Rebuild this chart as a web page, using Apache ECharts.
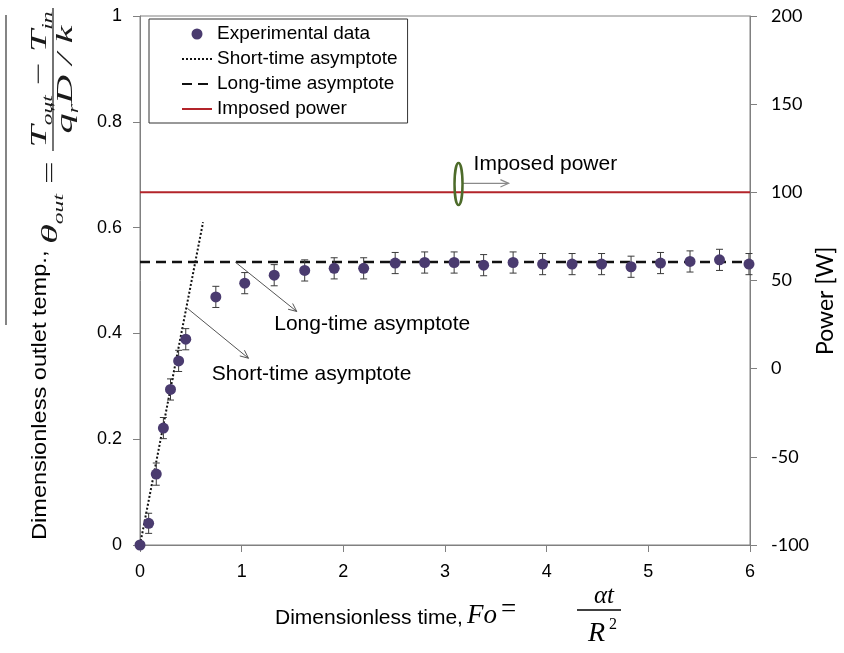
<!DOCTYPE html>
<html><head><meta charset="utf-8">
<script src="https://cdn.jsdelivr.net/npm/echarts@6/dist/echarts.min.js"></script>
<style>html,body{margin:0;padding:0;background:#fff}#c{width:844px;height:653px}</style>
</head><body><div id="c"></div>
<script>
// ---- data ----
const foValues    = [0, 0.085, 0.16, 0.23, 0.30, 0.38, 0.45, 0.746, 1.03, 1.32, 1.62, 1.91, 2.20, 2.51, 2.80, 3.09, 3.38, 3.67, 3.96, 4.25, 4.54, 4.83, 5.12, 5.41, 5.70, 5.99];
const thetaValues = [0, 0.041, 0.134, 0.221, 0.294, 0.348, 0.389, 0.469, 0.495, 0.510, 0.519, 0.523, 0.523, 0.533, 0.534, 0.534, 0.529, 0.534, 0.531, 0.531, 0.531, 0.526, 0.533, 0.536, 0.539, 0.531];
const thetaErrors = [0, 0.019, 0.021, 0.02, 0.02, 0.02, 0.02, 0.02, 0.02, 0.02, 0.02, 0.02, 0.02, 0.02, 0.02, 0.02, 0.02, 0.02, 0.02, 0.02, 0.02, 0.02, 0.02, 0.02, 0.02, 0.02];
const shortAsymFo = [0, 0.62];
const shortAsymTheta = [0, 0.61];
const longAsymFo = [0, 6];
const longAsymTheta = [0.535, 0.535];
const powerFo = [0, 6];
const powerW = [100, 100];
const xTicks = [0, 1, 2, 3, 4, 5, 6];
const thetaTicks = [0, 0.2, 0.4, 0.6, 0.8, 1];
const powerTicks = [-100, -50, 0, 50, 100, 150, 200];
const seriesNames = ['Experimental data', 'Short-time asymptote', 'Long-time asymptote', 'Imposed power'];

// annotation anchors (data coordinates)
const annLongText = [1.320, 0.418];
const annShortText = [0.706, 0.323];
const annLongArrow = [[0.936, 0.535], [1.542, 0.4414]];
const annShortArrow = [[0.466, 0.4474], [1.067, 0.353]];
const annPowerText = [3.281, 116.1];
const annPowerArrow = [[3.169, 105.1], [3.626, 105.1]];
const annPowerRing = [3.133, 104.7];

const sans = '"Liberation Sans", Arial, Helvetica, sans-serif';
const serif = '"Liberation Serif", "Times New Roman", serif';
const lato = 'Lato, "Open Sans", sans-serif';
const markerColor = '#4a3b6f';

const chart = echarts.init(document.getElementById('c'));
const zip = (a, b) => a.map((v, i) => [v, b[i]]);

const option = {
  animation: false,
  backgroundColor: '#fff',
  grid: {left: 140, right: 94, top: 16, bottom: 108, show: true, borderColor: '#808080', borderWidth: 1, backgroundColor: 'transparent'},
  xAxis: {
    type: 'value', min: xTicks[0], max: xTicks[xTicks.length - 1], interval: xTicks[1] - xTicks[0],
    axisLine: {show: true, onZero: false, lineStyle: {color: '#808080', width: 1}},
    axisTick: {show: true, length: 7, lineStyle: {color: '#808080'}},
    axisLabel: {color: '#000', fontSize: 18, fontFamily: sans, margin: 18},
    splitLine: {show: false}
  },
  yAxis: [{
    type: 'value', position: 'left', min: thetaTicks[0], max: thetaTicks[thetaTicks.length - 1], interval: thetaTicks[1] - thetaTicks[0],
    axisLine: {show: true, lineStyle: {color: '#808080', width: 1}},
    axisTick: {show: true, length: 7, lineStyle: {color: '#808080'}},
    axisLabel: {color: '#000', fontSize: 18, fontFamily: sans, margin: 18},
    splitLine: {show: false}
  }, {
    type: 'value', position: 'right', min: powerTicks[0], max: powerTicks[powerTicks.length - 1], interval: powerTicks[1] - powerTicks[0],
    axisLine: {show: true, lineStyle: {color: '#808080', width: 1}},
    axisTick: {show: true, length: 7, lineStyle: {color: '#808080'}},
    axisLabel: {color: '#000', fontSize: 18, fontFamily: lato, margin: 21},
    splitLine: {show: false}
  }],
  legend: {
    left: 149, top: 19, orient: 'vertical',
    data: seriesNames.map((n, i) => i === 0 ? {name: n} : {name: n, itemStyle: {opacity: 0}}),
    itemWidth: 30, itemHeight: 11, itemGap: 3,
    padding: [4, 10, 3, 32],
    backgroundColor: '#fff', borderColor: '#333', borderWidth: 1, borderRadius: 0,
    textStyle: {fontSize: 19, fontFamily: sans, color: '#000', lineHeight: 22}
  },
  series: [
    {
      type: 'custom', name: 'err', z: 3, silent: true,
      data: foValues.map((f, i) => [f, thetaValues[i], thetaErrors[i]]),
      renderItem: function (params, api) {
        const x = api.value(0), y = api.value(1), e = api.value(2);
        if (!e) return null;
        const top = api.coord([x, y + e]), bot = api.coord([x, y - e]);
        const cw = 3.5, st = {stroke: '#3a3a3a', lineWidth: 1};
        return {type: 'group', children: [
          {type: 'line', shape: {x1: top[0], y1: top[1], x2: bot[0], y2: bot[1]}, style: st},
          {type: 'line', shape: {x1: top[0] - cw, y1: top[1], x2: top[0] + cw, y2: top[1]}, style: st},
          {type: 'line', shape: {x1: bot[0] - cw, y1: bot[1], x2: bot[0] + cw, y2: bot[1]}, style: st}
        ]};
      }
    },
    {
      type: 'line', name: seriesNames[1], data: zip(shortAsymFo, shortAsymTheta), symbol: 'none', z: 2,
      lineStyle: {color: '#111', width: 2, type: [2, 2]}, itemStyle: {color: '#111'}
    },
    {
      type: 'line', name: seriesNames[2], data: zip(longAsymFo, longAsymTheta), symbol: 'none', z: 2,
      lineStyle: {color: '#111', width: 2.5, type: [10, 6]}, itemStyle: {color: '#111'}
    },
    {
      type: 'line', name: seriesNames[3], yAxisIndex: 1, data: zip(powerFo, powerW), symbol: 'none', z: 2,
      lineStyle: {color: '#b3242a', width: 2}, itemStyle: {color: '#b3242a'}
    },
    {
      type: 'scatter', name: seriesNames[0], data: zip(foValues, thetaValues), symbol: 'circle', symbolSize: 11, z: 4, clip: false,
      itemStyle: {color: markerColor, opacity: 1}
    }
  ]
};
chart.setOption(option);

// ---- titles & annotations ----
const mctx = document.createElement('canvas').getContext('2d');
function tw(str, size, family, italic) { mctx.font = (italic ? 'italic ' : '') + size + 'px ' + family; return mctx.measureText(str).width; }
function txt(str, x, base, size, family, italic, align, fill) {
  return {type: 'text', x: x, y: base - 0.34 * size, style: {text: str, fontSize: size, fontFamily: family, fontStyle: italic ? 'italic' : 'normal', fill: fill || '#000', align: align || 'left', verticalAlign: 'middle'}};
}
function arrow(p0, p1, color, lw) {
  const ang = Math.atan2(p1[1] - p0[1], p1[0] - p0[0]);
  const L = 9, a = 0.42;
  const h1 = [p1[0] - L * Math.cos(ang - a), p1[1] - L * Math.sin(ang - a)];
  const h2 = [p1[0] - L * Math.cos(ang + a), p1[1] - L * Math.sin(ang + a)];
  const st = {stroke: color, lineWidth: lw, fill: null};
  return [
    {type: 'line', shape: {x1: p0[0], y1: p0[1], x2: p1[0], y2: p1[1]}, style: st},
    {type: 'polyline', shape: {points: [h1, p1, h2]}, style: st}
  ];
}
const P = (d) => chart.convertToPixel({xAxisIndex: 0, yAxisIndex: 0}, d);
const PW = (d) => chart.convertToPixel({xAxisIndex: 0, yAxisIndex: 1}, d);

const g = [];
// x-axis title
g.push(txt('Dimensionless time,', 275, 625, 21, sans, false));
g.push(txt('Fo', 467, 625, 27, serif, true));
g.push(txt('=', 501, 619, 27, serif, false));
g.push({type: 'line', shape: {x1: 577, y1: 610, x2: 621, y2: 610}, style: {stroke: '#000', lineWidth: 1.3}});
g.push(txt('\u03b1t', 604, 605, 25, serif, true, 'center'));
g.push(txt('R', 588, 643, 28, serif, true));
g.push(txt('2', 609, 630, 16, serif, false));

// left y-axis title (rotated, reads bottom to top)
(function () {
  const mainStr = 'Dimensionless outlet temp., ';
  const mainSize = 21;
  const mainW = tw(mainStr, mainSize, sans, false);
  const mainLen = 296;
  const fb = 12;
  const fs = 24, ss = 14, fc = '#1a1a1a';
  const kids = [];
  let fx = 0;
  kids.push(txt('\u03b8', fx, fb, fs, serif, true, 'left', fc)); fx += tw('\u03b8', fs, serif, true);
  kids.push(txt('out', fx, fb + 5, ss, serif, true, 'left', fc)); fx += tw('out', ss, serif, true);
  kids.push(txt(' = ', fx, fb, fs, serif, false, 'left', fc)); fx += tw(' = ', fs, serif, false);
  const numParts = [['T', fs, true, 0], ['out', ss, true, 5], [' \u2212 ', fs, false, 0], ['T', fs, true, 0], ['in', ss, true, 5]];
  const denParts = [['q', fs, true, 0], ['r', ss, true, 5], ['D / ', fs, true, 0], ['k', fs, true, 0]];
  const wOf = (parts) => parts.reduce((s, p) => s + tw(p[0], p[1], serif, p[2]), 0);
  const numW = wOf(numParts), denW = wOf(denParts);
  const barW = Math.max(numW, denW) + 4;
  const barY = fb - 6;
  kids.push({type: 'line', shape: {x1: fx, y1: barY, x2: fx + barW, y2: barY}, style: {stroke: '#000', lineWidth: 1.1}});
  let nx = fx + (barW - numW) / 2;
  numParts.forEach(p => { kids.push(txt(p[0], nx, barY - 5 + p[3], p[1], serif, p[2], 'left', fc)); nx += tw(p[0], p[1], serif, p[2]); });
  let dx = fx + (barW - denW) / 2;
  denParts.forEach((p, i) => {
    kids.push(txt(p[0], dx, barY + 21 + p[3], p[1], serif, p[2], 'left', fc));
    if (i === 1) kids.push(txt('\u2033', dx + 1, barY + 9, ss, serif, false, 'left', fc));
    dx += tw(p[0], p[1], serif, p[2]);
  });
  const formulaLen = fx + barW;
  const fScale = 236 / formulaLen;
  g.push({type: 'group', x: 47, y: 540, rotation: Math.PI / 2, children: [
    {type: 'group', scaleX: mainLen / mainW, children: [txt(mainStr, 0, 0, mainSize, sans, false)]},
    {type: 'group', x: mainLen, scaleX: fScale, children: kids}
  ]});
  g.push({type: 'line', shape: {x1: 6, y1: 15, x2: 6, y2: 325}, style: {stroke: '#333', lineWidth: 1.2}});
})();

// right y-axis title
g.push({type: 'group', x: 833, y: 355, rotation: Math.PI / 2, children: [txt('Power [W]', 0, 0, 23, lato, false)]});

// annotations
const lt = P(annLongText), st2 = P(annShortText), pt = PW(annPowerText);
g.push({type: 'text', x: lt[0], y: lt[1], style: {text: 'Long-time asymptote', fontSize: 21, fontFamily: sans, fill: '#000', align: 'left', verticalAlign: 'middle'}});
g.push({type: 'text', x: st2[0], y: st2[1], style: {text: 'Short-time asymptote', fontSize: 21, fontFamily: sans, fill: '#000', align: 'left', verticalAlign: 'middle'}});
g.push({type: 'text', x: pt[0], y: pt[1], style: {text: 'Imposed power', fontSize: 21, fontFamily: sans, fill: '#000', align: 'left', verticalAlign: 'middle'}});
arrow(P(annLongArrow[0]), P(annLongArrow[1]), '#555', 1).forEach(e => g.push(e));
arrow(P(annShortArrow[0]), P(annShortArrow[1]), '#555', 1).forEach(e => g.push(e));
arrow(PW(annPowerArrow[0]), PW(annPowerArrow[1]), '#8a8a8a', 1.2).forEach(e => g.push(e));
const rc = PW(annPowerRing);
g.push({type: 'ellipse', shape: {cx: rc[0], cy: rc[1], rx: 4, ry: 21}, style: {stroke: '#4d6b2a', lineWidth: 2.5, fill: null}});

chart.setOption({graphic: {elements: g.map(e => Object.assign({z: 100}, e))}});
</script></body></html>
